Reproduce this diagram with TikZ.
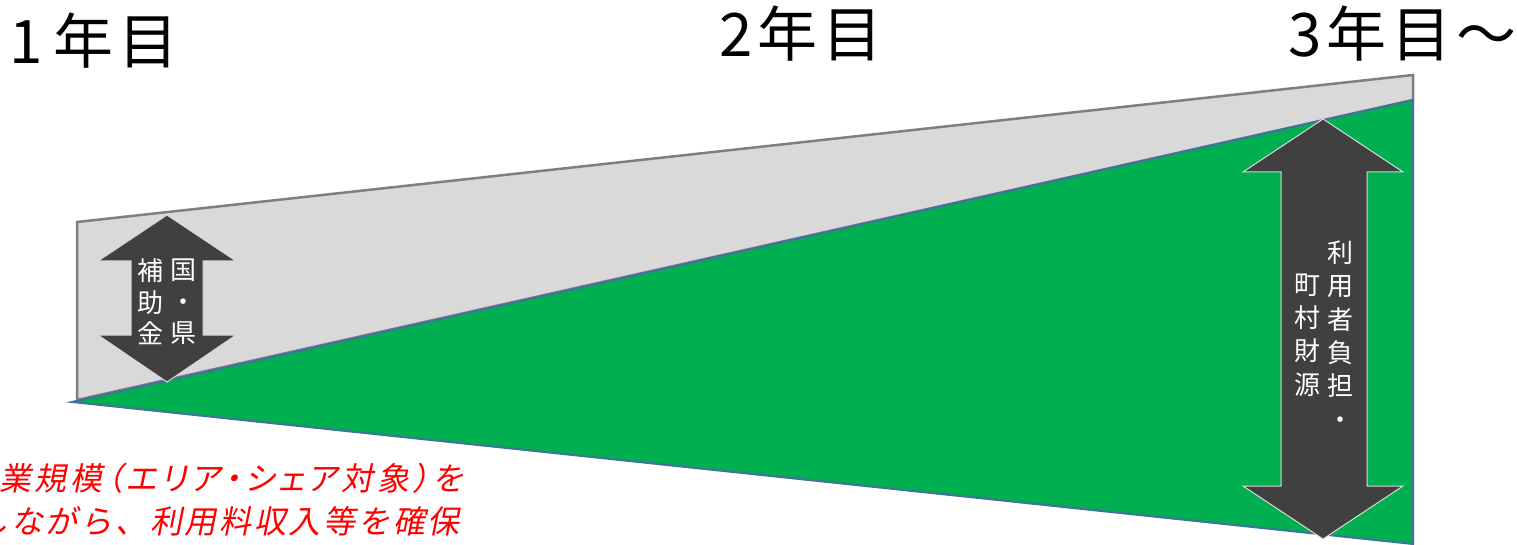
\documentclass[tikz,border=0pt]{standalone}
\usepackage{fontspec}
\setmainfont{Noto Sans CJK JP}
\newfontfamily\jp{Noto Sans CJK JP}
\newfontfamily\jpit{Noto Sans CJK JP}[FakeSlant=0.2,LetterSpace=8.5]
\newfontfamily\jpitp{Noto Sans CJK JP}[FakeSlant=0.2,LetterSpace=12,RawFeature=+palt]
\definecolor{grayfill}{HTML}{D9D9D9}
\definecolor{grayline}{HTML}{7F7F7F}
\definecolor{greenfill}{HTML}{00B050}
\definecolor{blueline}{HTML}{41719C}
\definecolor{arrowfill}{HTML}{404040}
\definecolor{arrowline}{HTML}{D9D9D9}
\definecolor{redtext}{HTML}{FF0000}
\tikzset{
  yeartext/.style={anchor=base west,inner sep=0pt,font=\jp\fontsize{60}{66}\selectfont},
  bandgray/.style={fill=grayfill,draw=grayline,line width=2.5pt,line join=miter},
  bandgreen/.style={fill=greenfill,draw=blueline,line width=2pt,line join=miter},
  arrowbox/.style={fill=arrowfill,draw=arrowline,line width=1pt,line join=miter},
  coltextL/.style={text=white,inner sep=0pt,align=center,font=\jp\fontsize{26}{31.5}\selectfont},
  coltextR/.style={text=white,inner sep=0pt,align=center,font=\jp\fontsize{26}{33.3}\selectfont},
  redline/.style={anchor=base east,inner sep=0pt,text=redtext,font=\jpit\fontsize{32}{40}\selectfont},
  redlinep/.style={redline,font=\jpitp\fontsize{32}{40}\selectfont}
}
\begin{document}
\begin{tikzpicture}[x=1pt,y=-1pt]
\useasboundingbox (0,0) rectangle (1517,545);
\clip (0,0) rectangle (1517,545);
% titles
\node[yeartext] (y1) at (9,64) {1\kern11pt 年\kern5pt 目};
\node[yeartext] (y2) at (719,57) {2\kern5pt 年\kern5pt 目};
\node[yeartext] (y3) at (1288,57) {3\kern5pt 年\kern5pt 目\kern5pt 〜};
% bands
\draw[bandgray] (77,222) -- (1413,75) -- (1413,100) -- (77,400) -- cycle;
\draw[bandgreen] (72,402) -- (1413,100) -- (1413,544) -- cycle;
% left arrow
\draw[arrowbox] (167,215) -- (236,261) -- (203,261) -- (203,335) -- (236,335) -- (167,382)
  -- (98,335) -- (131,335) -- (131,261) -- (98,261) -- cycle;
\node[coltextL] (l1) at (183.5,302) {国\\・\\県};
\node[coltextL] (l2) at (150,302) {補\\助\\金};
% right arrow
\draw[arrowbox] (1323,119) -- (1403,172) -- (1367,172) -- (1367,486) -- (1403,486) -- (1323,539)
  -- (1243,486) -- (1281,486) -- (1281,172) -- (1243,172) -- cycle;
\node[coltextR] (r1) at (1340,335) {利\\用\\者\\負\\担\\・};
\node[coltextR] (r2) at (1307,335) {町\\村\\財\\源};
% red text
\node[redlinep] (t1) at (463,490) {事業規模（エリア・シェア対象）を};
\node[redline] (t2) at (460,533) {しながら、利用料収入等を確保};
\end{tikzpicture}
\end{document}
